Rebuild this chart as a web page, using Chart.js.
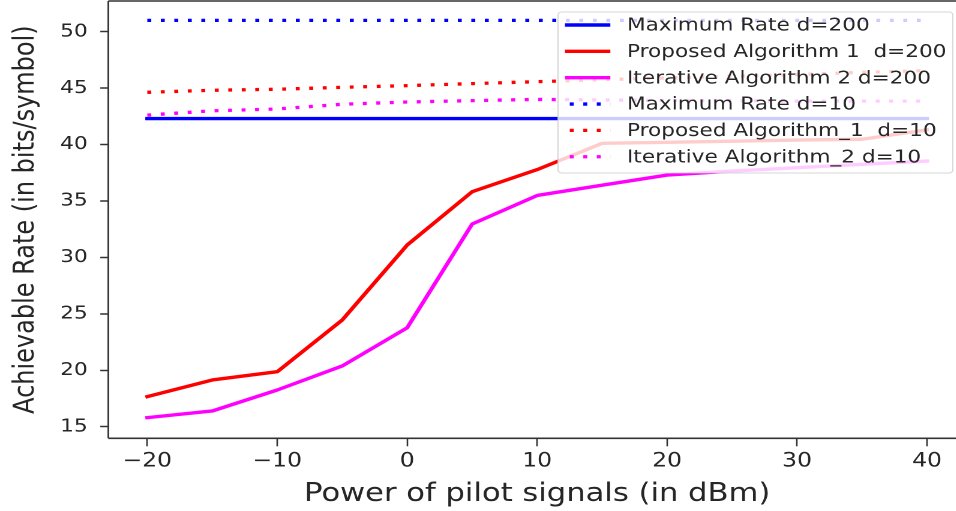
<!DOCTYPE html>
<html><head><meta charset="utf-8">
<script src="https://cdn.jsdelivr.net/npm/chart.js@4.4.1/dist/chart.umd.min.js"></script>
<style>
html,body{margin:0;padding:0;background:#fff;overflow:hidden;width:956px;height:511px;}
canvas{display:block;}
</style></head><body>
<canvas id="c" width="810" height="511" style="width:972px;height:511px;"></canvas>
<script>
// ---- data ----
const xValues = [-20, -15, -10, -5, 0, 5, 10, 15, 20, 25, 30, 35, 40];
const maxRate200 = [42.3, 42.3, 42.3, 42.3, 42.3, 42.3, 42.3, 42.3, 42.3, 42.3, 42.3, 42.3, 42.3];
const proposed200 = [17.66, 19.14, 19.87, 24.45, 31.1, 35.82, 37.78, 40.11, 40.2, 40.3, 40.4, 40.47, 41.3];
const iterative200 = [15.8, 16.39, 18.25, 20.38, 23.77, 32.96, 35.49, 36.4, 37.3, 37.65, 37.95, 38.25, 38.54];
const maxRate10 = [51.0, 51.0, 51.0, 51.0, 51.0, 51.0, 51.0, 51.0, 51.0, 51.0, 51.0, 51.0, 51.0];
const proposed10 = [44.63, 44.81, 44.9, 45.07, 45.22, 45.4, 45.57, 45.75, 45.9, 46.05, 46.2, 46.4, 46.55];
const iterative10 = [42.61, 42.99, 43.15, 43.57, 43.77, 43.89, 44.0, 43.95, 43.9, 43.9, 43.85, 43.85, 43.85];
const seriesLabels = ['Maximum Rate d=200', 'Proposed Algorithm 1  d=200', 'Iterative Algorithm 2 d=200',
                      'Maximum Rate d=10', 'Proposed Algorithm_1  d=10', 'Iterative Algorithm_2 d=10'];
const xTicks = [-20, -10, 0, 10, 20, 30, 40];
const yTicks = [15, 20, 25, 30, 35, 40, 45, 50];
const xTitle = 'Power of pilot signals (in dBm)';
const yTitle = 'Achievable Rate (in bits/symbol)';

// ---- styling ----
const BLUE = '#0000ff', RED = '#ff0000', MAG = '#ff00ff';
const DOT = [3.3, 7.95];
const FONT = 'DejaVu Sans';
const TXT = '#262626';

const toPts = arr => xValues.map((x, i) => ({x: x, y: arr[i]}));
const seriesData = [maxRate200, proposed200, iterative200, maxRate10, proposed10, iterative10];
const colors = [BLUE, RED, MAG, BLUE, RED, MAG];
const datasets = seriesData.map((arr, i) => ({
  label: seriesLabels[i],
  data: toPts(arr),
  borderColor: colors[i],
  backgroundColor: colors[i],
  borderWidth: i < 3 ? 3.4 : 3.3,
  borderDash: i < 3 ? [] : DOT,
  borderCapStyle: i < 3 ? 'square' : 'butt',
  borderJoinStyle: 'round',
  pointRadius: 0,
  fill: false,
  tension: 0,
  order: -i
}));

const fmt = v => (v < 0 ? '\u2212' + Math.abs(v) : String(v));

const framePlugin = {
  id: 'frame',
  afterDatasetsDraw(chart) {
    const {ctx, chartArea: a} = chart;
    ctx.save();
    ctx.strokeStyle = '#333';
    ctx.lineWidth = 1.6;
    ctx.beginPath();
    ctx.moveTo(a.left, a.top); ctx.lineTo(a.right, a.top);
    ctx.moveTo(a.left, a.bottom); ctx.lineTo(a.right, a.bottom);
    ctx.stroke();
    ctx.lineWidth = 1.4;
    ctx.beginPath();
    ctx.moveTo(a.left, a.top); ctx.lineTo(a.left, a.bottom);
    ctx.moveTo(a.right, a.top); ctx.lineTo(a.right, a.bottom);
    ctx.stroke();
    ctx.restore();
  }
};

const legendPlugin = {
  id: 'mplLegend',
  afterDatasetsDraw(chart) {
    const ctx = chart.ctx;
    const L = 465, R = 794, T = 12, B = 173, rad = 3;
    ctx.save();
    ctx.beginPath();
    ctx.moveTo(L + rad, T);
    ctx.lineTo(R - rad, T); ctx.arcTo(R, T, R, T + rad, rad);
    ctx.lineTo(R, B - rad); ctx.arcTo(R, B, R - rad, B, rad);
    ctx.lineTo(L + rad, B); ctx.arcTo(L, B, L, B - rad, rad);
    ctx.lineTo(L, T + rad); ctx.arcTo(L, T, L + rad, T, rad);
    ctx.closePath();
    ctx.fillStyle = 'rgba(255,255,255,0.8)';
    ctx.fill();
    ctx.strokeStyle = 'rgba(204,204,204,0.8)';
    ctx.lineWidth = 1;
    ctx.stroke();
    chart.data.datasets.forEach((ds, i) => {
      const y = 25 + i * 26.35;
      ctx.strokeStyle = ds.borderColor;
      ctx.lineWidth = ds.borderWidth;
      ctx.lineCap = 'butt';
      const dotted = ds.borderDash && ds.borderDash.length;
      ctx.setLineDash(dotted ? ds.borderDash : []);
      ctx.beginPath();
      ctx.moveTo(dotted ? 474.8 : 470.8, y);
      ctx.lineTo(508.6, y);
      ctx.stroke();
      ctx.setLineDash([]);
      ctx.fillStyle = TXT;
      ctx.font = '18px "' + FONT + '"';
      ctx.textBaseline = 'middle';
      ctx.textAlign = 'left';
      ctx.fillText(ds.label, 522.5, y + 1);
    });
    ctx.restore();
  }
};

new Chart(document.getElementById('c'), {
  type: 'line',
  data: {datasets: datasets},
  options: {
    responsive: false,
    devicePixelRatio: 2,
    animation: false,
    layout: {padding: {left: 0, right: 5, top: 1, bottom: 0}},
    plugins: {legend: {display: false}, tooltip: {enabled: false}},
    scales: {
      x: {
        type: 'linear', min: -23, max: 43,
        afterBuildTicks: s => { s.ticks = xTicks.map(v => ({value: v})); },
        afterFit: s => { s.height = 72.7; s.paddingLeft = 0; s.paddingRight = 0; },
        ticks: {font: {family: FONT, size: 19.5}, color: TXT, padding: 3.5, maxRotation: 0, autoSkip: false, callback: fmt},
        grid: {display: true, drawOnChartArea: false, drawTicks: true, tickLength: 8, tickColor: '#333', tickWidth: 1.3, color: '#333'},
        border: {display: false},
        title: {display: true, text: xTitle, font: {family: FONT, size: 25.5}, color: TXT, padding: {top: 0, bottom: 1.2}}
      },
      y: {
        type: 'linear', min: 13.97, max: 52.72,
        afterBuildTicks: s => { s.ticks = yTicks.map(v => ({value: v})); },
        afterFit: s => { s.width = 90.25; s.paddingTop = 0; s.paddingBottom = 0; },
        ticks: {font: {family: FONT, size: 18}, color: TXT, padding: 10.5, callback: fmt},
        grid: {display: true, drawOnChartArea: false, drawTicks: true, tickLength: 6.7, tickColor: '#333', tickWidth: 1.5, color: '#333'},
        border: {display: false},
        title: {display: true, text: yTitle, font: {family: FONT, size: 24}, color: TXT, padding: {top: 7.5, bottom: 0}}
      }
    }
  },
  plugins: [framePlugin, legendPlugin]
});
</script>
</body></html>
